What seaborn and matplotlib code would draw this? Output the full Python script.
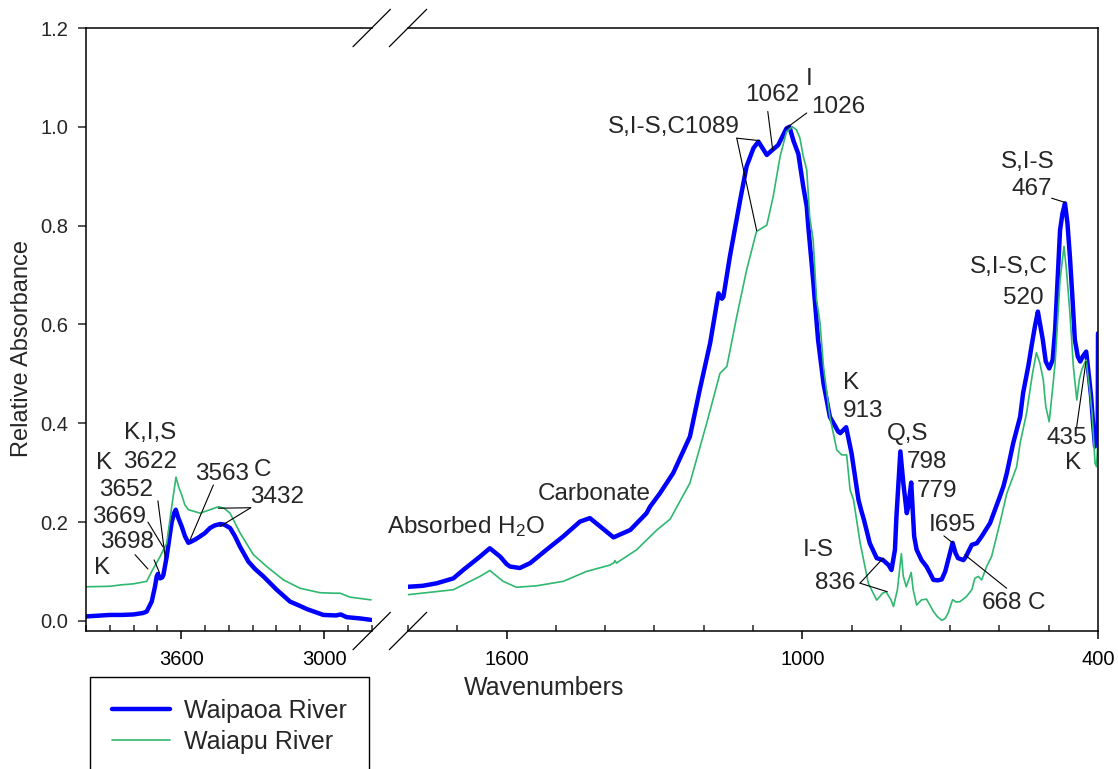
import matplotlib
matplotlib.use("Agg")
import matplotlib.pyplot as plt
import seaborn as sns
import pandas as pd
import numpy as np
from matplotlib.ticker import FixedLocator, MultipleLocator, FormatStrFormatter

# ---------------- data ----------------
series_names = ["Waipaoa River", "Waiapu River"]

# High-wavenumber region (left panel)
waipaoa_hi_wn = [4000, 3900, 3850, 3800, 3760, 3745, 3724, 3710, 3703, 3698, 3689, 3680, 3675,
                 3661, 3647, 3640, 3630, 3623, 3612, 3598, 3584, 3570, 3560, 3540, 3521, 3500,
                 3479, 3460, 3437, 3420, 3395, 3375, 3353, 3318, 3290, 3255, 3230, 3199, 3143,
                 3100, 3073, 3003, 2950, 2930, 2905, 2850, 2803]
waipaoa_hi_ab = [0.009, 0.012, 0.012, 0.013, 0.016, 0.019, 0.039, 0.070, 0.090, 0.095, 0.086, 0.088, 0.093,
                 0.130, 0.177, 0.200, 0.218, 0.225, 0.208, 0.191, 0.171, 0.158, 0.160, 0.165, 0.171, 0.178,
                 0.188, 0.193, 0.196, 0.195, 0.188, 0.172, 0.150, 0.120, 0.105, 0.090, 0.078, 0.063, 0.039,
                 0.030, 0.024, 0.012, 0.011, 0.013, 0.0075, 0.005, 0.002]

waiapu_hi_wn = [4000, 3900, 3850, 3800, 3745, 3724, 3689, 3661, 3640, 3622, 3610, 3598, 3585,
                3570, 3521, 3479, 3444, 3420, 3395, 3353, 3297, 3241, 3171, 3101, 3017, 2960,
                2933, 2891, 2803]
waiapu_hi_ab = [0.069, 0.070, 0.073, 0.075, 0.080, 0.100, 0.130, 0.157, 0.231, 0.291, 0.270, 0.255, 0.235,
                0.225, 0.218, 0.225, 0.231, 0.228, 0.218, 0.178, 0.134, 0.110, 0.083, 0.066, 0.057, 0.056,
                0.056, 0.048, 0.0425]

# Low-wavenumber region (right panel)
waipaoa_lo_wn = [1800, 1770, 1742, 1708, 1688, 1654, 1634, 1613, 1600, 1593, 1573, 1552, 1519, 1485, 1451,
                 1431, 1410, 1383, 1349, 1316, 1309, 1289, 1262, 1228, 1208, 1187, 1170, 1163, 1160, 1147,
                 1126, 1113, 1099, 1089, 1072, 1062, 1049, 1032, 1026, 1018, 1008, 998, 991, 988, 978, 968,
                 957, 944, 927, 923, 911, 900, 886, 880, 875, 863, 849, 836, 825, 819, 812, 809,
                 801, 795, 788, 785, 779, 773, 768, 758, 748, 740, 734, 725, 717, 710, 704, 695,
                 689, 684, 673, 668, 663, 656, 646, 636, 619, 599, 592, 585, 572, 558, 552, 541,
                 535, 528, 522, 518, 512, 506, 499, 492, 487, 482, 477, 472, 467, 462, 457, 452,
                 447, 441, 436, 431, 424, 419, 414, 410, 406, 402, 400.6, 400]
waipaoa_lo_ab = [0.069, 0.071, 0.076, 0.086, 0.103, 0.130, 0.147, 0.130, 0.115, 0.110, 0.107, 0.117, 0.144, 0.171, 0.201,
                 0.208, 0.191, 0.169, 0.184, 0.218, 0.231, 0.258, 0.299, 0.373, 0.468, 0.562, 0.663, 0.652, 0.656, 0.737,
                 0.852, 0.920, 0.957, 0.970, 0.943, 0.952, 0.963, 0.997, 1.000, 0.972, 0.945, 0.879, 0.839, 0.800, 0.690, 0.569,
                 0.481, 0.413, 0.383, 0.380, 0.392, 0.339, 0.245, 0.222, 0.205, 0.157, 0.127, 0.123, 0.113, 0.103, 0.144, 0.211,
                 0.343, 0.279, 0.218, 0.231, 0.280, 0.171, 0.144, 0.123, 0.110, 0.095, 0.083, 0.082, 0.084, 0.100, 0.123, 0.158,
                 0.137, 0.127, 0.123, 0.130, 0.140, 0.154, 0.157, 0.171, 0.198, 0.252, 0.272, 0.299, 0.360, 0.413, 0.461, 0.518,
                 0.555, 0.596, 0.626, 0.603, 0.569, 0.525, 0.511, 0.528, 0.589, 0.690, 0.791, 0.825, 0.845, 0.805, 0.737, 0.656,
                 0.569, 0.535, 0.525, 0.535, 0.545, 0.501, 0.454, 0.400, 0.353, 0.365, 0.373, 0.582]

waiapu_lo_wn = [1800, 1708, 1654, 1634, 1607, 1580, 1539, 1485, 1438, 1390, 1382, 1380, 1377, 1336,
                1295, 1268, 1228, 1194, 1167, 1153, 1133, 1113, 1093, 1072, 1059, 1045, 1032, 1020,
                1012, 1005, 998, 991, 985, 978, 971, 964, 957, 944, 930, 920, 910, 903, 896, 883,
                866, 849, 837, 830, 820, 815, 807, 799, 795, 789, 779, 775, 768, 758, 748, 740,
                734, 726, 717, 710, 704, 695, 688, 680, 667, 656, 650, 643, 636, 626, 616, 599,
                585, 565, 558, 545, 533, 525, 518, 511, 506, 499, 493, 487, 477, 469, 464, 457,
                450, 443, 438, 433, 428, 424, 417, 412, 406, 403, 400]
waiapu_lo_ab = [0.053, 0.063, 0.090, 0.102, 0.080, 0.068, 0.071, 0.080, 0.100, 0.113, 0.118, 0.122, 0.117, 0.144,
                0.184, 0.206, 0.279, 0.400, 0.501, 0.515, 0.616, 0.710, 0.788, 0.801, 0.859, 0.940, 0.990, 1.000,
                0.994, 0.978, 0.940, 0.913, 0.818, 0.771, 0.650, 0.603, 0.515, 0.413, 0.346, 0.336, 0.336, 0.265, 0.245, 0.160,
                0.076, 0.042, 0.056, 0.059, 0.0425, 0.029, 0.063, 0.136, 0.090, 0.069, 0.098, 0.063, 0.032, 0.0425, 0.044, 0.030,
                0.019, 0.0087, 0.001, 0.005, 0.016, 0.043, 0.038, 0.039, 0.049, 0.063, 0.086, 0.090, 0.083, 0.110, 0.130, 0.198,
                0.258, 0.312, 0.360, 0.420, 0.500, 0.543, 0.522, 0.488, 0.434, 0.403, 0.461, 0.522, 0.690, 0.758, 0.710, 0.623,
                0.515, 0.447, 0.488, 0.508, 0.520, 0.528, 0.468, 0.420, 0.319, 0.312, 0.366]

y_ticks = [0.0, 0.2, 0.4, 0.6, 0.8, 1.0, 1.2]
x_ticks_hi = [3600, 3000]
x_ticks_lo = [1600, 1000, 400]
x_label = "Wavenumbers"
y_label = "Relative Absorbance"

# ---------------- style ----------------
sns.set_style("ticks")
plt.rcParams["font.family"] = ["Liberation Sans", "DejaVu Sans"]
plt.rcParams["mathtext.fontset"] = "custom"
plt.rcParams["mathtext.rm"] = "Liberation Sans"
plt.rcParams["mathtext.it"] = "Liberation Sans:italic"
plt.rcParams["mathtext.default"] = "regular"

BLUE = "#0000FF"
GREEN = "#2fb870"
palette = {series_names[0]: BLUE, series_names[1]: GREEN}
sizes = {series_names[0]: 3.2, series_names[1]: 1.2}

df_hi = pd.concat([
    pd.DataFrame({"Wavenumber": waipaoa_hi_wn, "Absorbance": waipaoa_hi_ab, "River": series_names[0]}),
    pd.DataFrame({"Wavenumber": waiapu_hi_wn, "Absorbance": waiapu_hi_ab, "River": series_names[1]}),
], ignore_index=True)
df_lo = pd.concat([
    pd.DataFrame({"Wavenumber": waipaoa_lo_wn, "Absorbance": waipaoa_lo_ab, "River": series_names[0]}),
    pd.DataFrame({"Wavenumber": waiapu_lo_wn, "Absorbance": waiapu_lo_ab, "River": series_names[1]}),
], ignore_index=True)

W, H = 1118, 769
fig = plt.figure(figsize=(W / 100, H / 100), dpi=100)
ax1 = fig.add_axes([86 / W, 1 - 631 / H, 285.7 / W, 603 / H])
ax2 = fig.add_axes([408 / W, 1 - 631 / H, 690 / W, 603 / H])

for ax, df in ((ax1, df_hi), (ax2, df_lo)):
    sns.lineplot(data=df, x="Wavenumber", y="Absorbance", hue="River", size="River",
                 palette=palette, sizes=sizes, hue_order=series_names, size_order=series_names,
                 sort=False, estimator=None, legend=False, ax=ax)
    ax.set_ylim(-0.0205, 1.2)
    ax.set_xlabel("")
    ax.set_ylabel("")
    for s in ax.spines.values():
        s.set_linewidth(1.1)
        s.set_color("black")

ax1.set_xlim(4000, 2800)
ax2.set_xlim(1800, 400)

ax1.spines["right"].set_visible(False)
ax2.spines["left"].set_visible(False)
ax1.spines["top"].set_visible(True)
ax2.spines["top"].set_visible(True)
ax2.spines["right"].set_visible(True)

ax1.xaxis.set_major_locator(FixedLocator(x_ticks_hi))
ax1.xaxis.set_minor_locator(MultipleLocator(100))
ax2.xaxis.set_major_locator(FixedLocator(x_ticks_lo))
ax2.xaxis.set_minor_locator(MultipleLocator(100))
ax1.yaxis.set_major_locator(FixedLocator(y_ticks))
ax1.yaxis.set_major_formatter(FormatStrFormatter("%.1f"))
ax2.set_yticks([])

for ax in (ax1, ax2):
    ax.tick_params(axis="x", which="major", direction="out", length=5.5, width=1.1,
                   pad=8.5, labelsize=14.5, colors="black")
    ax.tick_params(axis="x", which="minor", direction="in", length=4, width=1.1)
ax1.tick_params(axis="y", which="major", direction="out", length=6, width=1.1, pad=7, labelsize=14.5)
ax2.tick_params(axis="y", which="both", left=False, right=False, labelleft=False)

# broken-axis marks
d = 18.7
for ax, xc, wpx in ((ax1, 1.0, 285.7), (ax2, 0.0, 690.0)):
    dx, dy = d / wpx, d / 603
    for yc in (0.0, 1.0):
        ax.plot([xc - dx, xc + dx], [yc - dy, yc + dy], transform=ax.transAxes,
                color="black", lw=0.9, clip_on=False)

FS = 17.5
# ---------------- annotations, left panel ----------------
texts_hi = [
    ("K,I,S", 3732, 0.380, "center"),
    ("3622", 3732, 0.322, "center"),
    ("K", 3924, 0.320, "center"),
    ("3652", 3833, 0.265, "center"),
    ("3669", 3863, 0.210, "center"),
    ("3698", 3828, 0.160, "center"),
    ("K", 3931, 0.108, "center"),
    ("3563", 3427, 0.2975, "center"),
    ("C", 3257, 0.306, "center"),
    ("3432", 3199, 0.250, "center"),
]
for s, x, y, ha in texts_hi:
    ax1.text(x, y, s, ha=ha, va="center", fontsize=FS, clip_on=False)

leaders_hi = [
    ((3698, 0.243), (3666, 0.1235)),
    ((3740, 0.200), (3677, 0.150)),
    ((3794, 0.134), (3740, 0.105)),
    ((3714, 0.1235), (3691, 0.097)),
    ((3465, 0.275), (3563, 0.164)),
    ((3308, 0.229), (3444, 0.228)),
    ((3308, 0.229), (3437, 0.191)),
]
for a, b in leaders_hi:
    ax1.annotate("", xy=b, xytext=a, arrowprops=dict(arrowstyle="-", lw=0.8, color="black",
                                                     shrinkA=0, shrinkB=0))

# ---------------- annotations, right panel ----------------
texts_lo = [
    ("Absorbed H$_2$O", 1843, 0.191, "left"),
    ("Carbonate", 1422.6, 0.257, "center"),
    ("S,I-S,C1089", 1126.4, 1.000, "right"),
    ("1062", 1061.5, 1.0646, "center"),
    ("I", 985.4, 1.097, "center"),
    ("1026", 927, 1.041, "center"),
    ("K", 917.5, 0.482, "left"),
    ("913", 916.8, 0.425, "left"),
    ("Q,S", 829, 0.3785, "left"),
    ("798", 788.4, 0.321, "left"),
    ("779", 768, 0.2635, "left"),
    ("I695", 744.4, 0.194, "left"),
    ("I-S", 998.6, 0.1437, "left"),
    ("836", 974.3, 0.0763, "left"),
    ("668", 636, 0.0358, "left"),
    ("C", 542.2, 0.0358, "left"),
    ("S,I-S", 487.4, 0.928, "right"),
    ("467", 494, 0.874, "right"),
    ("S,I-S,C", 501.6, 0.7155, "right"),
    ("520", 509.7, 0.654, "right"),
    ("435", 462.6, 0.371, "center"),
    ("K", 450, 0.3188, "center"),
]
for s, x, y, ha in texts_lo:
    ax2.text(x, y, s, ha=ha, va="center", fontsize=FS, clip_on=False)

leaders_lo = [
    ((1133, 0.977), (1087, 0.972)),
    ((1133, 0.977), (1092.6, 0.790)),
    ((1070, 1.031), (1060, 0.953)),
    ((991, 1.028), (1033, 0.997)),
    ((712.6, 0.172), (695, 0.158)),
    ((883, 0.0763), (835.7, 0.127)),
    ((883, 0.0763), (827.6, 0.059)),
    ((585.4, 0.066), (670, 0.1336)),
    ((494, 0.8555), (467, 0.847)),
    ((443.3, 0.393), (424.4, 0.525)),
]
for a, b in leaders_lo:
    ax2.annotate("", xy=b, xytext=a, arrowprops=dict(arrowstyle="-", lw=0.8, color="black",
                                                     shrinkA=0, shrinkB=0))

# axis labels
fig.text(544 / W, 1 - 695 / H, x_label, ha="center", va="baseline", fontsize=18)
fig.text(22.5 / W, 1 - 349 / H, y_label, ha="center", va="center", rotation=90, fontsize=17)

# legend
handles = ax1.get_lines()[:2]
leg = fig.legend(handles=handles, labels=series_names, loc="upper left",
                 bbox_to_anchor=(90 / W, 1 - 676.7 / H), bbox_transform=fig.transFigure,
                 frameon=True, fancybox=False, edgecolor="black", fontsize=18,
                 handlelength=2.33, handletextpad=0.57, borderpad=0.88, labelspacing=0.3,
                 borderaxespad=0)
leg.get_frame().set_linewidth(1.0)
leg.get_frame().set_alpha(1)

fig.savefig("out.png", dpi=100)
